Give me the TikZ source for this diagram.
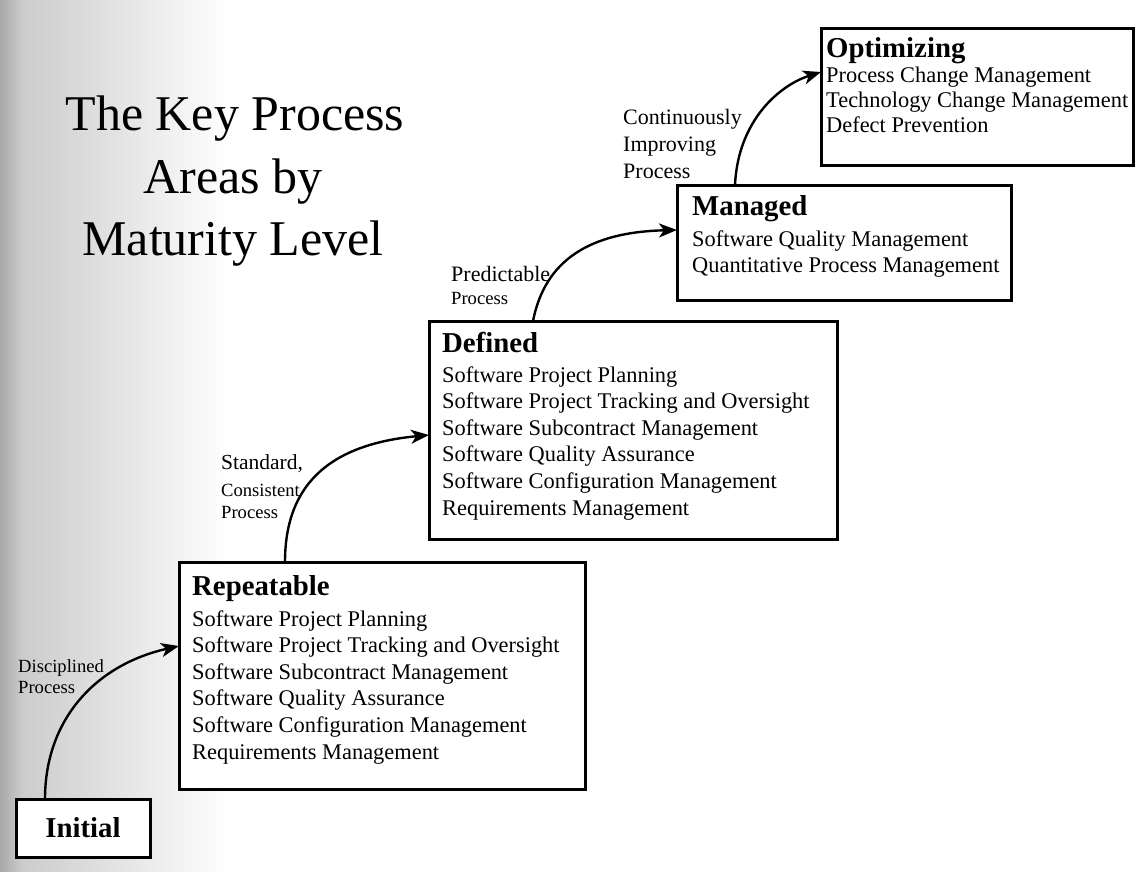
\documentclass[tikz,border=0pt]{standalone}
\usepackage{fontspec}
\setmainfont{Liberation Serif}
\usetikzlibrary{arrows.meta}
\begin{document}
\begin{tikzpicture}[x=1pt,y=-1pt,
  box/.style={draw=black, line width=3pt, fill=white, anchor=north west, inner sep=0pt, outer sep=0pt},
  head/.style={anchor=base west, inner sep=0pt, font=\fontsize{28.8}{32}\selectfont\bfseries},
  item/.style={anchor=base west, inner sep=0pt, font=\fontsize{22.4}{26}\selectfont},
  lblsmall/.style={anchor=base west, inner sep=0pt, font=\fontsize{18.6}{22}\selectfont},
  lblbig/.style={anchor=base west, inner sep=0pt, font=\fontsize{22}{26}\selectfont},
  ttl/.style={anchor=base, inner sep=0pt, font=\fontsize{50}{62}\selectfont},
  flow/.style={line width=2.4pt, -{Stealth[length=18pt,width=14pt,inset=5pt]}},
]
\useasboundingbox (0,0) rectangle (1138,871);
% background
\fill[white] (0,0) rectangle (1138,871);
\shade[left color=black!34, right color=black!20] (0,0) rectangle (22,871);
\shade[left color=black!20, right color=white] (22,0) rectangle (230,871);

% title
\node[ttl] (t1) at (235,130) {The Key Process};
\node[ttl] (t2) at (233,193) {Areas by};
\node[ttl] (t3) at (233,255) {Maturity Level};

% boxes
\node[box, minimum width=134pt, minimum height=58pt,
      font=\fontsize{28.8}{32}\selectfont\bfseries] (init) at (16,799) {Initial};
\node[box, minimum width=406pt, minimum height=227pt] (rep) at (179,562) {};
\node[box, minimum width=408pt, minimum height=218pt] (def) at (429,321) {};
\node[box, minimum width=334pt, minimum height=115pt] (man) at (677,185) {};
\node[box, minimum width=312pt, minimum height=137pt] (opt) at (821,28) {};

% Repeatable
\node[head] (rh) at (192,595) {Repeatable};
\node[item] (r1) at (192,626) {Software Project Planning};
\node[item] (r2) at (192,652.6) {Software Project Tracking and Oversight};
\node[item] (r3) at (192,679.2) {Software Subcontract Management};
\node[item] (r4) at (192,705.8) {Software Quality Assurance};
\node[item] (r5) at (192,732.4) {Software Configuration Management};
\node[item] (r6) at (192,759) {Requirements Management};

% Defined
\node[head] (dh) at (442,352) {Defined};
\node[item] (d1) at (442,382) {Software Project Planning};
\node[item] (d2) at (442,408.6) {Software Project Tracking and Oversight};
\node[item] (d3) at (442,435.2) {Software Subcontract Management};
\node[item] (d4) at (442,461.8) {Software Quality Assurance};
\node[item] (d5) at (442,488.4) {Software Configuration Management};
\node[item] (d6) at (442,515) {Requirements Management};

% Managed
\node[head] (mh) at (692,215) {Managed};
\node[item] (m1) at (692,246) {Software Quality Management};
\node[item] (m2) at (692,272) {Quantitative Process Management};

% Optimizing
\node[head] (oh) at (826,57) {Optimizing};
\node[item] (o1) at (826,82) {Process Change Management};
\node[item] (o2) at (826,107) {Technology Change Management};
\node[item] (o3) at (826,132) {Defect Prevention};

% connector labels
\node[lblsmall] (l1a) at (18,672) {Disciplined};
\node[lblsmall] (l1b) at (18,693) {Process};
\node[lblbig, font=\fontsize{21.5}{26}\selectfont] (l2a) at (221,469) {Standard,};
\node[lblsmall] (l2b) at (221,496) {Consistent};
\node[lblsmall] (l2c) at (221,518) {Process};
\node[lblbig] (l3a) at (451,281) {Predictable};
\node[lblsmall] (l3b) at (451,304) {Process};
\node[lblbig] (l4a) at (623,124) {Continuously};
\node[lblbig] (l4b) at (623,151) {Improving};
\node[lblbig] (l4c) at (623,178) {Process};

% connectors
\draw[flow] ([xshift=29pt]init.north west) .. controls (45,720) and (95,665) .. ([yshift=29.5pt]rep.west);
\draw[flow] ([xshift=106pt]rep.north west) .. controls (285,480) and (335,444) .. ([yshift=-5pt]def.west);
\draw[flow] ([xshift=104pt]def.north west) .. controls (545,260) and (590,232) .. ([yshift=12.5pt]man.west);
\draw[flow] ([xshift=58pt]man.north west) .. controls (738,120) and (780,85) .. ([yshift=24.5pt]opt.west);
\end{tikzpicture}
\end{document}
